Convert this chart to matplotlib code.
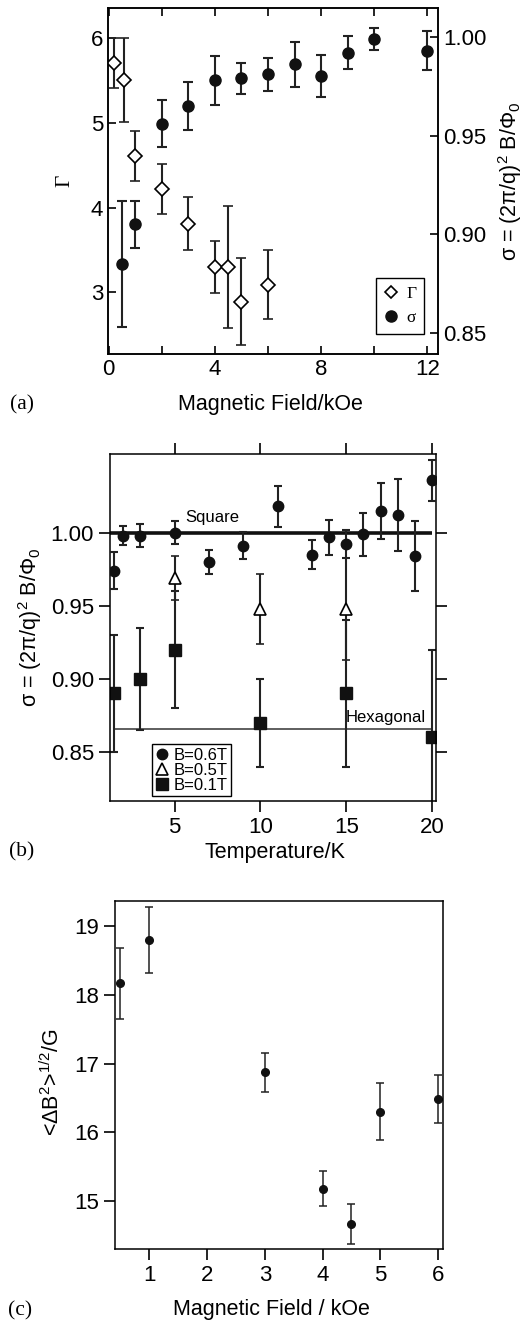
import matplotlib
matplotlib.use('Agg')
import matplotlib.pyplot as plt
from matplotlib.lines import Line2D
from matplotlib.ticker import FormatStrFormatter

plt.rcParams['font.family'] = ['Liberation Sans', 'DejaVu Sans']
plt.rcParams['mathtext.fontset'] = 'custom'
plt.rcParams['mathtext.rm'] = 'Liberation Sans'
plt.rcParams['mathtext.it'] = 'Liberation Sans:italic'
plt.rcParams['font.size'] = 15.5
plt.rcParams['xtick.labelsize'] = 16
plt.rcParams['ytick.labelsize'] = 16

# panel (a): Gamma and sigma vs magnetic field
field_gamma = [0.2, 0.6, 1.0, 2.0, 3.0, 4.0, 4.5, 5.0, 6.0]
gamma = [5.71, 5.51, 4.61, 4.22, 3.81, 3.30, 3.30, 2.89, 3.09]
gamma_err = [0.30, 0.50, 0.30, 0.30, 0.31, 0.31, 0.72, 0.51, 0.41]

field_sigma = [0.5, 1, 2, 3, 4, 5, 6, 7, 8, 9, 10, 12]
sigma = [0.885, 0.905, 0.956, 0.965, 0.978, 0.979, 0.981, 0.986, 0.980, 0.992, 0.999, 0.993]
sigma_err = [0.032, 0.012, 0.012, 0.012, 0.0125, 0.0077, 0.0085, 0.0115, 0.0106, 0.0085, 0.0055, 0.010]

# panel (b): sigma vs temperature
temp_06 = [1.5, 2, 3, 5, 7, 9, 11, 13, 14, 15, 16, 17, 18, 19, 20]
sigma_06 = [0.974, 0.998, 0.998, 1.000, 0.980, 0.991, 1.018, 0.985, 0.997, 0.9925, 0.999, 1.015, 1.012, 0.984, 1.036]
err_06 = [0.0128, 0.0063, 0.0077, 0.008, 0.008, 0.0093, 0.0141, 0.010, 0.012, 0.0095, 0.0147, 0.019, 0.0246, 0.024, 0.014]

temp_05 = [5, 10, 15]
sigma_05 = [0.969, 0.948, 0.9476]
err_05 = [0.015, 0.024, 0.035]

temp_01 = [1.5, 3, 5, 10, 15, 20]
sigma_01 = [0.89, 0.90, 0.92, 0.87, 0.89, 0.86]
err_01 = [0.04, 0.035, 0.04, 0.03, 0.05, 0.06]

square_value = 1.0
hexagonal_value = 0.866

# panel (c): field width vs magnetic field
field_c = [0.5, 1, 3, 4, 4.5, 5, 6]
db_rms = [18.17, 18.80, 16.87, 15.18, 14.67, 16.30, 16.48]
db_err = [0.515, 0.485, 0.29, 0.26, 0.29, 0.42, 0.35]

W, H = 527, 1327
fig = plt.figure(figsize=(W / 100, H / 100), dpi=100)


def px_axes(left, right, top, bottom):
    return fig.add_axes([left / W, 1 - bottom / H, (right - left) / W, (bottom - top) / H])


# ---------------- panel (a) ----------------
ax_a = px_axes(108, 438, 8, 354)
ax_a2 = ax_a.twinx()
ax_a.errorbar(field_gamma, gamma, yerr=gamma_err, fmt='D', ms=7, mfc='white', mec='black',
              mew=1.2, ecolor='#222222', elinewidth=1.5, capsize=3.6, capthick=1.5, zorder=3)
ax_a2.errorbar(field_sigma, sigma, yerr=sigma_err, fmt='o', ms=8, color='#111111',
               ecolor='#222222', elinewidth=1.5, capsize=3.6, capthick=1.5)
ax_a.set_xlim(-0.02, 12.4)
ax_a.set_ylim(2.27, 6.36)
ax_a2.set_ylim(0.8394, 1.0146)
ax_a.set_xticks([0, 4, 8, 12])
ax_a.set_xticks([2, 6, 10], minor=True)
ax_a.set_yticks([3, 4, 5, 6])
ax_a2.set_yticks([0.85, 0.90, 0.95, 1.00])
ax_a2.yaxis.set_major_formatter(FormatStrFormatter('%.2f'))
ax_a.tick_params(which='both', direction='in', top=True, length=6, width=1.2)
ax_a2.tick_params(direction='in', length=6, width=1.2)
ax_a.set_xlabel('Magnetic Field/kOe', va='center')
ax_a.xaxis.set_label_coords(0.491, -0.147)
ax_a.set_ylabel('Γ', family='Liberation Serif', va='center')
ax_a.yaxis.set_label_coords(-0.13, 0.5)
ax_a2.set_ylabel(r'σ = (2π/q)$^2$ B/Φ$_0$', va='center')
ax_a2.yaxis.set_label_coords(1.218, 0.5)
handles_a = [Line2D([], [], ls='none', marker='D', ms=6.5, mfc='white', mec='black', mew=1.2),
             Line2D([], [], ls='none', marker='o', ms=8, color='#111111')]
leg_a = ax_a2.legend(handles_a, ['Γ', 'σ'], loc='lower right', bbox_to_anchor=(0.958, 0.058),
                     borderaxespad=0, fancybox=False, edgecolor='black', framealpha=1,
                     handlelength=0.8, handletextpad=0.5, labelspacing=0.45, borderpad=0.45,
                     prop={'family': 'Liberation Serif', 'size': 12.5})
leg_a.get_frame().set_linewidth(1.0)
fig.text(22 / W, 1 - 405 / H, '(a)', family='Liberation Serif', ha='center', va='center')

# ---------------- panel (b) ----------------
ax_b = px_axes(110, 436, 454, 801)
ax_b.hlines(square_value, 1.24, 20, color='#111111', lw=2.6, zorder=1)
ax_b.hlines(hexagonal_value, 1.5, 20, color='#333333', lw=1.1, zorder=1)
ax_b.text(7.2, 1.0105, 'Square', fontsize=12, ha='center', va='center')
ax_b.text(17.3, 0.8735, 'Hexagonal', fontsize=12, ha='center', va='center')
ax_b.errorbar(temp_01, sigma_01, yerr=err_01, fmt='s', ms=9, color='#111111',
              ecolor='#222222', elinewidth=1.5, capsize=2.6, capthick=1.5, zorder=2)
ax_b.errorbar(temp_05, sigma_05, yerr=err_05, fmt='^', ms=9, mfc='white', mec='black',
              mew=1.2, ecolor='#222222', elinewidth=1.5, capsize=2.6, capthick=1.5, zorder=3)
ax_b.errorbar(temp_06, sigma_06, yerr=err_06, fmt='o', ms=7.5, color='#111111',
              ecolor='#222222', elinewidth=1.5, capsize=2.6, capthick=1.5, zorder=4)
ax_b.set_xlim(1.24, 20.23)
ax_b.set_ylim(0.8164, 1.0539)
ax_b.set_xticks([5, 10, 15, 20])
ax_b.set_yticks([0.85, 0.90, 0.95, 1.00])
ax_b.yaxis.set_major_formatter(FormatStrFormatter('%.2f'))
ax_b.tick_params(direction='out', top=True, right=True, length=8, width=1.2)
ax_b.set_xlabel('Temperature/K', va='center')
ax_b.xaxis.set_label_coords(0.506, -0.147)
ax_b.set_ylabel(r'σ = (2π/q)$^2$ B/Φ$_0$', va='center')
ax_b.yaxis.set_label_coords(-0.245, 0.5)
handles_b = [Line2D([], [], ls='none', marker='o', ms=7.5, color='#111111'),
             Line2D([], [], ls='none', marker='^', ms=9, mfc='white', mec='black', mew=1.2),
             Line2D([], [], ls='none', marker='s', ms=9, color='#111111')]
leg_b = ax_b.legend(handles_b, ['B=0.6T', 'B=0.5T', 'B=0.1T'], loc='lower left',
                    bbox_to_anchor=(0.129, 0.0144), borderaxespad=0, fancybox=False,
                    edgecolor='black', framealpha=1, fontsize=12, handlelength=0.8,
                    handletextpad=0.3, labelspacing=0.0, borderpad=0.2)
leg_b.get_frame().set_linewidth(1.0)
fig.text(22 / W, 1 - 852 / H, '(b)', family='Liberation Serif', ha='center', va='center')

# ---------------- panel (c) ----------------
ax_c = px_axes(115, 443.3, 900.7, 1249)
ax_c.errorbar(field_c, db_rms, yerr=db_err, fmt='o', ms=5.5, color='#111111',
              ecolor='#222222', elinewidth=1.1, capsize=2.6, capthick=1.1)
ax_c.set_xlim(0.406, 6.09)
ax_c.set_ylim(14.30, 19.37)
ax_c.set_xticks([1, 2, 3, 4, 5, 6])
ax_c.set_yticks([15, 16, 17, 18, 19])
ax_c.tick_params(direction='out', length=8, width=1.2)
ax_c.set_xlabel('Magnetic Field / kOe', va='center')
ax_c.xaxis.set_label_coords(0.475, -0.175)
ax_c.set_ylabel(r'<ΔB$^2$>$^{1/2}$/G', va='center')
ax_c.yaxis.set_label_coords(-0.192, 0.479)
fig.text(20 / W, 1 - 1311 / H, '(c)', family='Liberation Serif', ha='center', va='center')

for ax in (ax_a, ax_a2, ax_b, ax_c):
    for sp in ax.spines.values():
        sp.set_linewidth(1.1)

fig.savefig('out.png', dpi=100)
